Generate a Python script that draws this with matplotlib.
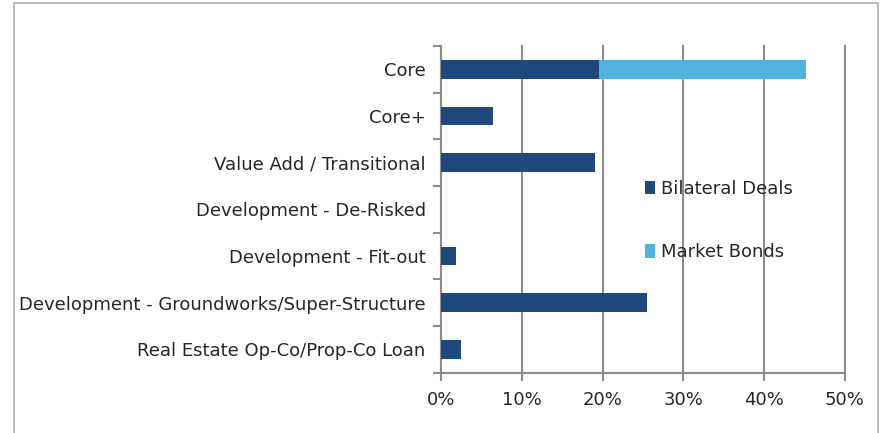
import matplotlib

matplotlib.use("Agg")
import matplotlib.pyplot as plt  # noqa: E402
from matplotlib.patches import Rectangle  # noqa: E402
from matplotlib.ticker import FuncFormatter, FixedLocator  # noqa: E402

categories = ["Core", "Core+", "Value Add / Transitional",
              "Development - De-Risked", "Development - Fit-out",
              "Development - Groundworks/Super-Structure",
              "Real Estate Op-Co/Prop-Co Loan"]
bilateral = [19.5, 6.4, 19.1, 0.0, 1.9, 25.5, 2.5]
market_bonds = [25.7, 0.0, 0.0, 0.0, 0.0, 0.0, 0.0]
series_names = ["Bilateral Deals", "Market Bonds"]
xticks = [0, 10, 20, 30, 40, 50]

DARK = "#1f497d"
LIGHT = "#4fb3de"
GRID = "#8c8c8c"
TEXT = "#262626"
FS = 13

plt.rcParams["font.family"] = ["DejaVu Sans"]

W, H = 881, 433
fig = plt.figure(figsize=(W / 100, H / 100), dpi=100)
fig.patches.append(Rectangle((14 / W, -0.1), (878 - 14) / W, 1.1 - 3 / H,
                             transform=fig.transFigure, fill=False,
                             edgecolor="#b0b0b0", lw=1.2))

ax = fig.add_axes([441 / W, 1 - 372.5 / H, (845 - 441) / W, (372.5 - 46) / H])
y = list(range(len(categories)))
ax.barh(y, bilateral, height=0.4, color=DARK, label=series_names[0], zorder=3)
ax.barh(y, market_bonds, left=bilateral, height=0.4, color=LIGHT,
        label=series_names[1], zorder=3)

ax.set_xlim(0, 50)
ax.set_ylim(len(categories) - 0.5, -0.5)
ax.xaxis.set_major_locator(FixedLocator(xticks))
ax.xaxis.set_major_formatter(FuncFormatter(lambda v, _: f"{v:.0f}%"))
ax.grid(axis="x", color=GRID, lw=1.5, zorder=0)
for line in ax.get_xgridlines():
    line.set_clip_on(False)

# category labels at centres, tick marks at boundaries (Excel style)
ax.set_yticks(y)
ax.set_yticklabels(categories)
ax.tick_params(axis="y", length=0, pad=11, labelsize=FS, labelcolor=TEXT)
ax.set_yticks([i - 0.5 for i in range(len(categories) + 1)], minor=True)
ax.tick_params(axis="y", which="minor", length=6, width=1.5, color=GRID)
ax.tick_params(axis="x", length=6, width=1.5, color=GRID, labelsize=FS,
               labelcolor=TEXT, pad=7)

for side in ("top", "right"):
    ax.spines[side].set_visible(False)
for side in ("left", "bottom"):
    ax.spines[side].set_color(GRID)
    ax.spines[side].set_linewidth(1.5)

ax.legend(loc="upper left", bbox_to_anchor=((629 - 441) / (845 - 441), 0.64),
          frameon=False, fontsize=FS, handlelength=0.55, handleheight=0.8,
          handletextpad=0.3, labelspacing=2.5, labelcolor=TEXT)

fig.savefig("out.png", dpi=100)
